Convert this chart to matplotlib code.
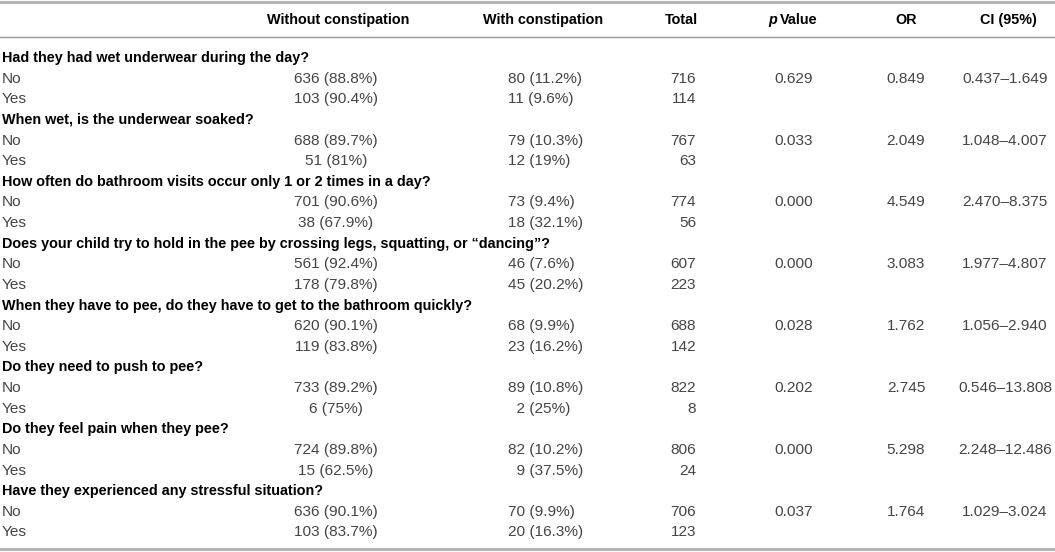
import matplotlib
matplotlib.use("Agg")
import matplotlib.pyplot as plt

plt.rcParams['font.family'] = ['Liberation Sans', 'DejaVu Sans']

## table contents
headers = ['Without constipation', 'With constipation', 'Total', 'Value', 'OR', 'CI (95%)']
questions = ['Had they had wet underwear during the day?',
             'When wet, is the underwear soaked?',
             'How often do bathroom visits occur only 1 or 2 times in a day?',
             'Does your child try to hold in the pee by crossing legs, squatting, or \u201cdancing\u201d?',
             'When they have to pee, do they have to get to the bathroom quickly?',
             'Do they need to push to pee?',
             'Do they feel pain when they pee?',
             'Have they experienced any stressful situation?']
answers = ['No', 'Yes']
without_n = [[636, 103], [688, 51], [701, 38], [561, 178], [620, 119], [733, 6], [724, 15], [636, 103]]
without_pct = [[88.8, 90.4], [89.7, 81], [90.6, 67.9], [92.4, 79.8], [90.1, 83.8], [89.2, 75], [89.8, 62.5], [90.1, 83.7]]
with_n = [[80, 11], [79, 12], [73, 18], [46, 45], [68, 23], [89, 2], [82, 9], [70, 20]]
with_pct = [[11.2, 9.6], [10.3, 19], [9.4, 32.1], [7.6, 20.2], [9.9, 16.2], [10.8, 25], [10.2, 37.5], [9.9, 16.3]]
totals = [[716, 114], [767, 63], [774, 56], [607, 223], [688, 142], [822, 8], [806, 24], [706, 123]]
p_values = ['0.629', '0.033', '0.000', '0.000', '0.028', '0.202', '0.000', '0.037']
odds_ratios = ['0.849', '2.049', '4.549', '3.083', '1.762', '2.745', '5.298', '1.764']
conf_int = ['0.437\u20131.649', '1.048\u20134.007', '2.470\u20138.375', '1.977\u20134.807',
            '1.056\u20132.940', '0.546\u201313.808', '2.248\u201312.486', '1.029\u20133.024']

W, H = 1055, 552
fig = plt.figure(figsize=(W / 100, H / 100), dpi=100)
ax = fig.add_axes([0, 0, 1, 1])
ax.set_xlim(0, W)
ax.set_ylim(H, 0)
ax.axis('off')

fs = 10.4      # bold text
fs_d = 11.1    # plain data text
grey = '#454545'
hdr = dict(fontsize=fs, fontweight='bold', color='black', va='center', ha='center')
txt = dict(fontsize=fs_d, color=grey, va='center')

# column x positions
x_lab, x_wo, x_wi, x_tot, x_p, x_or, x_ci = 2, 336, 508, 696, 794, 906, 1005

# rules
ax.plot([0, W], [2, 2], color='#b0b0b0', lw=2)
ax.plot([0, W], [37, 37], color='#9a9a9a', lw=1)
ax.plot([0, W], [549, 549], color='#b0b0b0', lw=2)

# header
ax.text(x_wo + 2, 20, headers[0], **hdr)
ax.text(543, 20, headers[1], **hdr)
ax.text(681, 20, headers[2], **hdr)
ax.text(777, 20, 'p', fontsize=fs, fontweight='bold', fontstyle='italic', va='center', ha='right')
ax.text(780, 20, headers[3], fontsize=fs, fontweight='bold', va='center', ha='left')
ax.text(x_or, 20, headers[4], **hdr)
ax.text(1008, 20, headers[5], **hdr)

y0, dy = 58, 20.63
for i, q in enumerate(questions):
    yq = y0 + 3 * i * dy
    ax.text(x_lab, yq, q, fontsize=fs, fontweight='bold', color='black', va='center', ha='left')
    for j in range(2):
        y = yq + (j + 1) * dy
        ax.text(x_lab, y, answers[j], ha='left', **txt)
        ax.text(x_wo, y, f'{without_n[i][j]} ({without_pct[i][j]:g}%)', ha='center', **txt)
        n = str(with_n[i][j]).rjust(2, '\u2007')
        ax.text(x_wi, y, f'{n} ({with_pct[i][j]:g}%)', ha='left', **txt)
        ax.text(x_tot, y, str(totals[i][j]), ha='right', **txt)
        if j == 0:
            ax.text(x_p, y, p_values[i], ha='center', **txt)
            ax.text(x_or, y, odds_ratios[i], ha='center', **txt)
            ax.text(x_ci, y, conf_int[i], ha='center', **txt)

fig.savefig('out.png', dpi=100)
